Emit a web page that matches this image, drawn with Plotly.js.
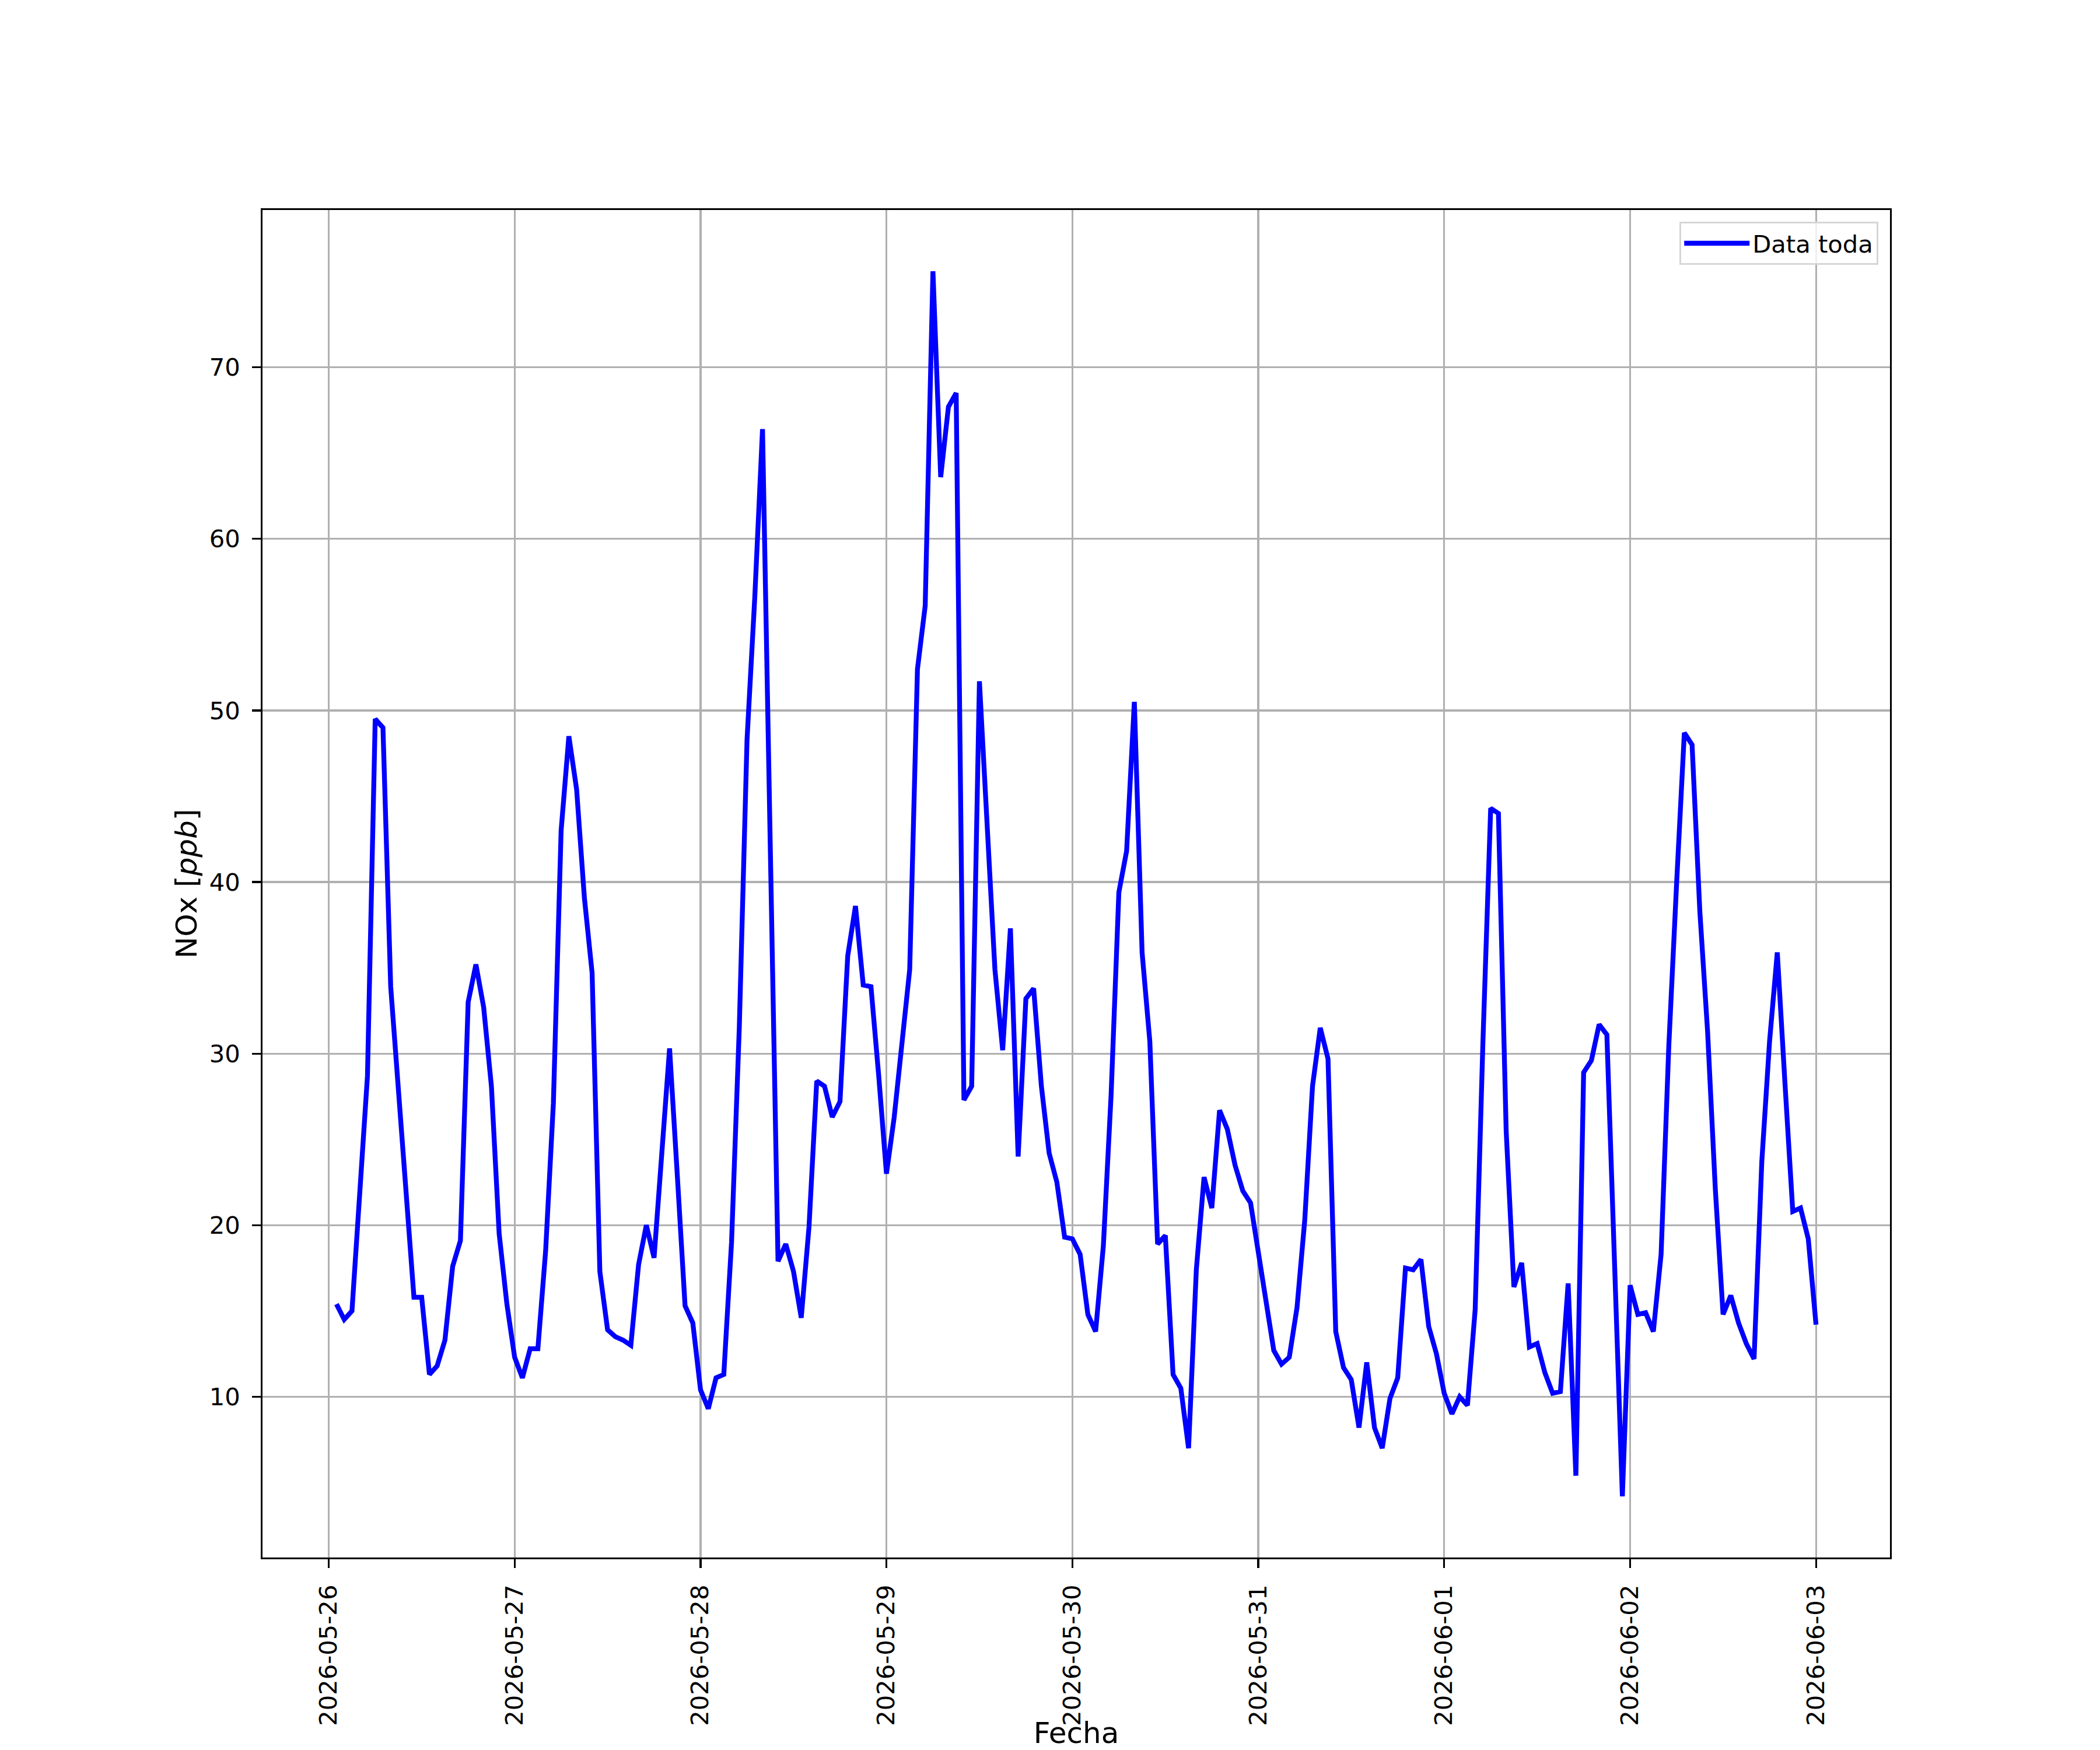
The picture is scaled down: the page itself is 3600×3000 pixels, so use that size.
<!DOCTYPE html>
<html>
<head>
<meta charset="utf-8">
<script src="https://cdn.plot.ly/plotly-3.0.1.min.js"></script>
<style>html,body{margin:0;padding:0;background:#fff;}</style>
</head>
<body>
<div id="chart"></div>
<script>
// Serie horaria de NOx [ppb], primera medición 2026-05-26 01:00, paso de 1 hora
const inicioSerie = '2026-05-26T01:00:00Z';
const pasoHoras = 1;

const nox_0526 = [15.4, 14.5, 15.0, 22.3, 28.7, 49.5, 49.0, 33.9, 27.8, 22.4, 15.8, 15.8,
                  11.3, 11.8, 13.3, 17.6, 19.1, 33.0, 35.2, 32.7, 28.1, 19.5, 15.4];
const nox_0527 = [12.3, 11.1, 12.8, 12.8, 18.5, 27.1, 43.0, 48.5, 45.4, 39.1, 34.7, 17.3,
                  13.9, 13.5, 13.3, 13.0, 17.7, 20.0, 18.1, 24.3, 30.3, 22.9, 15.3, 14.3];
const nox_0528 = [10.4, 9.3, 11.1, 11.3, 19.0, 31.5, 48.3, 56.6, 66.4, 42.1, 17.9, 18.9,
                  17.3, 14.6, 19.9, 28.4, 28.1, 26.3, 27.2, 35.7, 38.6, 34.0, 33.9, 28.7];
const nox_0529 = [23.0, 26.3, 30.5, 34.9, 52.4, 56.1, 75.6, 63.6, 67.7, 68.5, 27.3, 28.1,
                  51.7, 43.0, 34.9, 30.2, 37.3, 24.0, 33.2, 33.8, 28.1, 24.2, 22.5, 19.3];
const nox_0530 = [19.2, 18.3, 14.8, 13.8, 18.8, 27.6, 39.4, 41.8, 50.5, 35.9, 30.7, 18.9,
                  19.4, 11.3, 10.5, 7.0, 17.4, 22.8, 21.0, 26.7, 25.6, 23.5, 22.0, 21.3];
const nox_0531 = [18.4, 15.3, 12.7, 11.9, 12.3, 15.2, 20.3, 28.1, 31.5, 29.7, 13.8, 11.7,
                  11.0, 8.2, 12.0, 8.2, 7.0, 9.9, 11.1, 17.5, 17.4, 18.0, 14.1, 12.5];
const nox_0601 = [10.2, 9.0, 10.0, 9.5, 15.1, 30.7, 44.3, 44.0, 25.5, 16.4, 17.8, 12.9,
                  13.1, 11.4, 10.2, 10.3, 16.6, 5.4, 28.9, 29.6, 31.7, 31.1, 17.6, 4.2];
const nox_0602 = [16.5, 14.8, 14.9, 13.8, 18.3, 30.5, 39.9, 48.7, 48.0, 38.3, 31.3, 22.1,
                  14.8, 15.9, 14.3, 13.1, 12.2, 23.7, 30.7, 35.9, 28.2, 20.8, 21.0, 19.2];
const nox_0603 = [14.2];

const nombreSerie = 'Data toda';
const tituloX = 'Fecha';
const tituloY = 'NOx [<i>ppb</i>]';

const nox = [].concat(nox_0526, nox_0527, nox_0528, nox_0529, nox_0530,
                      nox_0531, nox_0601, nox_0602, nox_0603);

const t0 = Date.parse(inicioSerie);
const HORA = 3600 * 1000;
function fmt(ms) { return new Date(ms).toISOString().slice(0, 19).replace('T', ' '); }
const fechas = nox.map((_, i) => fmt(t0 + i * pasoHoras * HORA));

// autoscale like matplotlib (5% margins)
const tFirst = t0, tLast = t0 + (nox.length - 1) * pasoHoras * HORA;
const dx = (tLast - tFirst) * 0.05;
const ymin = Math.min(...nox), ymax = Math.max(...nox);
const dy = (ymax - ymin) * 0.05;

const FS = 41.7;   // 10 pt at 300 dpi
const FT = 50;     // 12 pt at 300 dpi
const trace = {
  x: fechas, y: nox, type: 'scatter', mode: 'lines', name: nombreSerie,
  line: {color: '#0000ff', width: 8.3}
};

const ejeComun = {
  ticks: 'outside', ticklen: 14.6, tickwidth: 3.3, tickcolor: 'black',
  showline: true, linecolor: 'black', linewidth: 3.3, mirror: true,
  showgrid: true, gridcolor: '#b0b0b0', gridwidth: 3.3, zeroline: false,
  tickfont: {family: 'DejaVu Sans', size: FS, color: 'black'},
  automargin: false
};

const layout = {
  width: 3600, height: 3000,
  margin: {l: 450, r: 360, t: 360, b: 330, pad: 0, autoexpand: false},
  paper_bgcolor: 'white', plot_bgcolor: 'white',
  font: {family: 'DejaVu Sans', size: FS, color: 'black'},
  showlegend: true,
  legend: {
    x: 0.9928, y: 0.9913, xanchor: 'right', yanchor: 'top',
    bgcolor: 'rgba(255,255,255,0.8)', bordercolor: '#d6d6d6', borderwidth: 3.3,
    font: {family: 'DejaVu Sans', size: FS, color: 'black'}, itemwidth: 112
  },
  xaxis: Object.assign({}, ejeComun, {
    type: 'date', range: [fmt(tFirst - dx), fmt(tLast + dx)],
    tick0: '2026-05-26', dtick: 86400000, tickformat: '%Y-%m-%d', tickangle: -90,
    ticklabelstandoff: 12,
    title: {text: tituloX, font: {family: 'DejaVu Sans', size: FT, color: 'black'}, standoff: 29}
  }),
  yaxis: Object.assign({}, ejeComun, {
    range: [ymin - dy, ymax + dy], tick0: 0, dtick: 10,
    ticklabelstandoff: 12,
    title: {text: tituloY, font: {family: 'DejaVu Sans', size: FT, color: 'black'}, standoff: 6}
  })
};

Plotly.newPlot('chart', [trace], layout, {staticPlot: true, displayModeBar: false});
</script>
</body>
</html>
